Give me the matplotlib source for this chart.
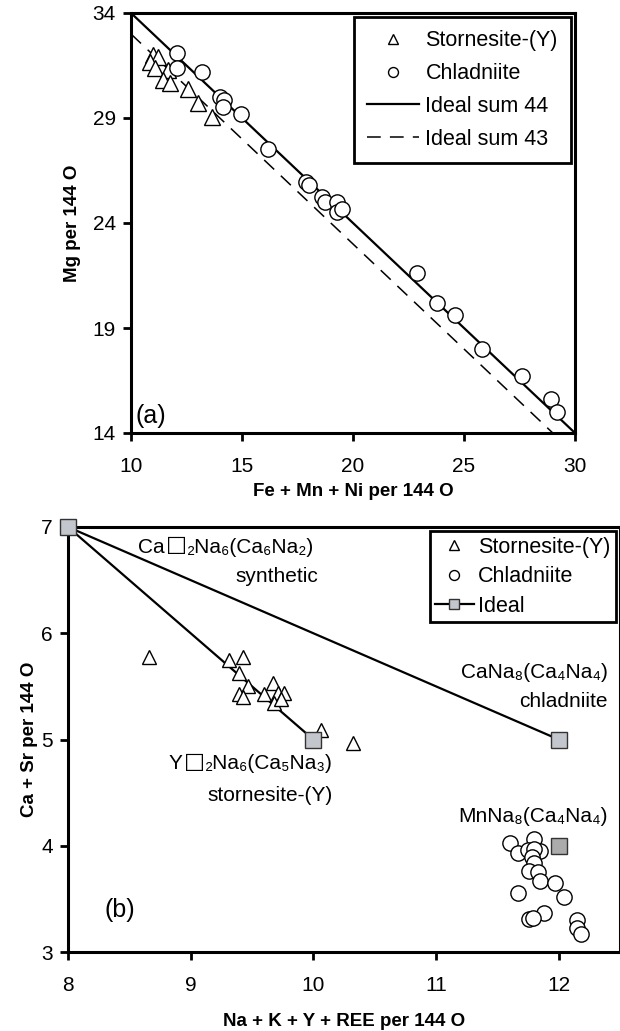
import matplotlib
matplotlib.use('Agg')
import matplotlib.pyplot as plt

plt.rcParams['font.family'] = ['Liberation Sans', 'DejaVu Sans']

# panel (a) data
stor_a_x = [10.99, 11.2, 10.86, 11.08, 11.67, 11.44, 11.76, 12.57, 13.0, 13.65]
stor_a_y = [32.0, 31.9, 31.67, 31.4, 31.3, 30.8, 30.67, 30.4, 29.7, 29.05]
chl_a_x = [12.07, 12.07, 13.2, 14.0, 14.2, 14.15, 14.95, 16.17, 17.9, 18.0, 18.6,
           18.74, 19.3, 19.3, 19.5, 22.9, 23.8, 24.6, 25.8, 27.6, 28.9, 29.2]
chl_a_y = [32.1, 31.4, 31.2, 30.0, 29.85, 29.5, 29.2, 27.5, 25.95, 25.8, 25.24,
           25.0, 25.0, 24.5, 24.67, 21.6, 20.2, 19.6, 18.0, 16.7, 15.6, 15.0]
sum44_x = [10, 30]
sum44_y = [34, 14]
sum43_x = [10, 29]
sum43_y = [33, 14]

# panel (b) data
stor_b_x = [8.66, 9.31, 9.43, 9.39, 9.47, 9.39, 9.43, 9.6, 9.67, 9.71, 9.76, 9.68, 9.74, 10.06, 10.32]
stor_b_y = [5.78, 5.75, 5.78, 5.63, 5.50, 5.43, 5.40, 5.43, 5.53, 5.44, 5.44, 5.34, 5.38, 5.09, 4.97]
chl_b_x = [11.60, 11.67, 11.80, 11.75, 11.85, 11.80, 11.78, 11.80, 11.76, 11.83,
           11.85, 11.97, 11.67, 12.04, 11.88, 11.76, 11.79, 12.15, 12.15, 12.18]
chl_b_y = [4.03, 3.93, 4.06, 3.96, 3.95, 3.97, 3.89, 3.84, 3.76, 3.75,
           3.67, 3.65, 3.56, 3.52, 3.37, 3.31, 3.32, 3.30, 3.23, 3.17]
ideal_stor_x = [8, 10]
ideal_stor_y = [7, 5]
ideal_chl_x = [8, 12]
ideal_chl_y = [7, 5]
mn_x = [12]
mn_y = [4]

fig = plt.figure(figsize=(6.2, 10.31), dpi=100)
txt = 15


def formula(ax, x, y, pre, post):
    # text with a bold vacancy box between two parts
    t1 = ax.text(x, y, pre, fontsize=txt, ha='left', va='center')
    t2 = ax.annotate('□', xy=(1, 0), xycoords=t1, xytext=(1, 1), textcoords='offset points',
                     fontsize=txt + 1, fontweight='bold', family='DejaVu Sans', ha='left', va='bottom')
    ax.annotate(post, xy=(1, 0), xycoords=t2, xytext=(0, -1), textcoords='offset points',
                fontsize=txt, ha='left', va='bottom')


# ---- panel (a)
ax1 = fig.add_axes([131 / 620, 1 - 433 / 1031, (575 - 131) / 620, (433 - 13) / 1031])
ax1.plot(stor_a_x, stor_a_y, '^', ms=12, mfc='white', mec='black', mew=1.0, ls='none',
         label='Stornesite-(Y)', zorder=3)
ax1.plot(chl_a_x, chl_a_y, 'o', ms=11, mfc='white', mec='black', mew=1.0, ls='none',
         label='Chladniite', zorder=3)
ax1.plot(sum44_x, sum44_y, '-', color='black', lw=1.6, label='Ideal sum 44', zorder=2)
ax1.plot(sum43_x, sum43_y, '--', color='black', lw=1.1, dashes=(9, 6), label='Ideal sum 43', zorder=2)
ax1.set_xlim(10, 30)
ax1.set_ylim(14, 34)
ax1.set_xticks([10, 15, 20, 25, 30])
ax1.set_yticks([14, 19, 24, 29, 34])
ax1.set_xlabel('Fe + Mn + Ni per 144 O', fontsize=13.5, fontweight='bold', labelpad=5)
ax1.set_ylabel('Mg per 144 O', fontsize=13.5, fontweight='bold', labelpad=8)
ax1.text(10.2, 14.25, '(a)', fontsize=18, ha='left', va='bottom')
leg1 = ax1.legend(loc='upper right', fontsize=15.5, markerscale=0.65, handlelength=2.4,
                  fancybox=False, edgecolor='black', framealpha=1, borderaxespad=0.2,
                  borderpad=0.6, labelspacing=0.55, handletextpad=0.3)
leg1.get_frame().set_linewidth(2)

# ---- panel (b)
ax2 = fig.add_axes([68 / 620, 1 - 952 / 1031, (620 - 68) / 620, (952 - 527) / 1031])
ax2.plot(ideal_stor_x, ideal_stor_y, '-', color='black', lw=1.6, zorder=2)
ax2.plot(ideal_chl_x, ideal_chl_y, '-s', color='black', lw=1.6, ms=11, mfc='#c3c6cc',
         mec='#333333', mew=1.0, label='Ideal', zorder=4, clip_on=False)
ax2.plot(ideal_stor_x[1:], ideal_stor_y[1:], 's', ms=11, mfc='#c3c6cc', mec='#333333', mew=1.0, zorder=4)
ax2.plot(stor_b_x, stor_b_y, '^', ms=10.5, mfc='white', mec='black', mew=1.0, ls='none',
         label='Stornesite-(Y)', zorder=3)
ax2.plot(chl_b_x, chl_b_y, 'o', ms=11, mfc='white', mec='black', mew=1.0, ls='none',
         label='Chladniite', zorder=3)
ax2.plot(mn_x, mn_y, 's', ms=11, mfc='#ababab', mec='#333333', mew=1.0, zorder=4)
ax2.set_xlim(8, 12.5)
ax2.set_ylim(3, 7)
ax2.set_xticks([8, 9, 10, 11, 12])
ax2.set_yticks([3, 4, 5, 6, 7])
ax2.set_xlabel('Na + K + Y + REE per 144 O', fontsize=13.5, fontweight='bold', labelpad=13)
ax2.set_ylabel('Ca + Sr per 144 O', fontsize=13.5, fontweight='bold', labelpad=2)

formula(ax2, 8.57, 6.81, 'Ca', '₂Na₆(Ca₆Na₂)')
ax2.text(9.7, 6.53, 'synthetic', fontsize=txt, ha='center', va='center')
ax2.text(12.4, 5.63, 'CaNa₈(Ca₄Na₄)', fontsize=txt, ha='right', va='center')
ax2.text(12.4, 5.36, 'chladniite', fontsize=txt, ha='right', va='center')
formula(ax2, 8.82, 4.77, 'Y', '₂Na₆(Ca₅Na₃)')
ax2.text(9.65, 4.47, 'stornesite-(Y)', fontsize=txt, ha='center', va='center')
ax2.text(12.4, 4.28, 'MnNa₈(Ca₄Na₄)', fontsize=txt, ha='right', va='center')
ax2.text(8.3, 3.4, '(b)', fontsize=18, ha='left', va='center')

handles, labels = ax2.get_legend_handles_labels()
order = [1, 2, 0]
leg2 = ax2.legend([handles[i] for i in order], [labels[i] for i in order], loc='upper right',
                  fontsize=15.5, markerscale=0.65, handlelength=1.8, fancybox=False,
                  edgecolor='black', framealpha=1, borderaxespad=0.2, borderpad=0.25,
                  labelspacing=0.4, handletextpad=0.2)
leg2.get_frame().set_linewidth(2)

for ax in [ax1, ax2]:
    for s in ax.spines.values():
        s.set_linewidth(2.2)
    ax.tick_params(direction='out', length=6, width=2, labelsize=15, pad=5)
    ax.tick_params(axis='x', pad=11)

plt.savefig('out.png', dpi=100)
